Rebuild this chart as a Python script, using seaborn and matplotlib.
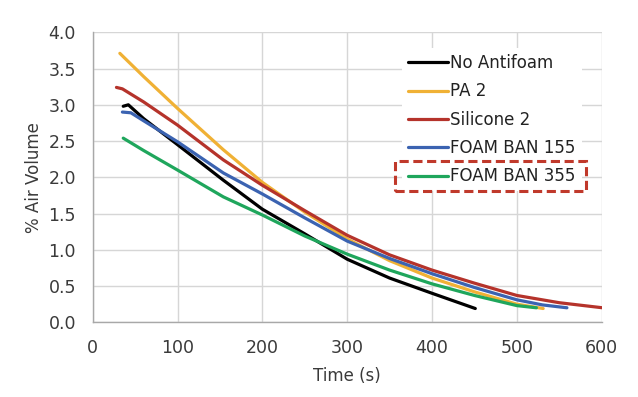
import numpy as np
import pandas as pd
import matplotlib
matplotlib.use("Agg")
import matplotlib.pyplot as plt
import seaborn as sns
from matplotlib.patches import Rectangle
from matplotlib.transforms import Bbox

# ---- data ----
series_names = ["No Antifoam", "PA 2", "Silicone 2", "FOAM BAN 155", "FOAM BAN 355"]

no_antifoam_t = [36, 42, 60, 100, 154, 200, 250, 300, 350, 400, 451]
no_antifoam_v = [2.98, 3.00, 2.81, 2.45, 1.96, 1.56, 1.22, 0.87, 0.61, 0.40, 0.19]

pa2_t = [32, 60, 100, 154, 200, 250, 300, 350, 400, 450, 500, 531]
pa2_v = [3.71, 3.39, 2.95, 2.38, 1.93, 1.52, 1.15, 0.85, 0.61, 0.42, 0.25, 0.19]

silicone2_t = [28, 35, 60, 100, 154, 200, 250, 300, 350, 400, 450, 500, 550, 601]
silicone2_v = [3.24, 3.22, 3.04, 2.72, 2.24, 1.89, 1.54, 1.20, 0.93, 0.72, 0.54, 0.37, 0.27, 0.20]

fb155_t = [35, 45, 60, 100, 154, 200, 250, 300, 350, 400, 450, 500, 530, 559]
fb155_v = [2.90, 2.89, 2.78, 2.49, 2.06, 1.77, 1.44, 1.12, 0.88, 0.67, 0.48, 0.31, 0.24, 0.20]

fb355_t = [36, 60, 100, 154, 200, 250, 300, 350, 400, 450, 500, 523]
fb355_v = [2.54, 2.37, 2.10, 1.73, 1.48, 1.19, 0.94, 0.72, 0.53, 0.37, 0.23, 0.20]

x_ticks = [0, 100, 200, 300, 400, 500, 600]
y_ticks = [0.0, 0.5, 1.0, 1.5, 2.0, 2.5, 3.0, 3.5, 4.0]

colors = ["#000000", "#f0b135", "#b5332b", "#3b63b1", "#1fa65c"]

frames = []
for name, t, v in zip(series_names,
                      [no_antifoam_t, pa2_t, silicone2_t, fb155_t, fb355_t],
                      [no_antifoam_v, pa2_v, silicone2_v, fb155_v, fb355_v]):
    frames.append(pd.DataFrame({"Time (s)": t, "% Air Volume": v, "Series": name}))
df = pd.concat(frames, ignore_index=True)

# ---- figure ----
sns.set_theme(style="white")
plt.rcParams["font.family"] = ["DejaVu Sans"]

fig = plt.figure(figsize=(6.38, 3.97), dpi=100)
ax = fig.add_axes([0.1453, 0.1882, 0.9431 - 0.1453, 0.9186 - 0.1882])

sns.lineplot(data=df, x="Time (s)", y="% Air Volume", hue="Series",
             hue_order=series_names, palette=colors, sort=False,
             estimator=None, linewidth=2.3, ax=ax)

ax.set_xlim(0, 600)
ax.set_ylim(0, 4.0)
ax.set_xticks(x_ticks)
ax.set_yticks(y_ticks)
ax.set_yticklabels([f"{v:.1f}" for v in y_ticks])
ax.grid(True, color="#d6d6d6", linewidth=1.0)
ax.set_axisbelow(True)
for s in ["top", "right"]:
    ax.spines[s].set_visible(False)
for s in ["left", "bottom"]:
    ax.spines[s].set_color("#a8a8a8")
    ax.spines[s].set_linewidth(1.0)
ax.tick_params(axis="both", length=0, pad=12, labelsize=12.5, labelcolor="#3a3a3a")
ax.set_xlabel("Time (s)", fontsize=12, color="#3a3a3a", labelpad=7)
ax.set_ylabel("% Air Volume", fontsize=12, color="#3a3a3a", labelpad=4)

handles, labels = ax.get_legend_handles_labels()
leg = ax.legend(handles, labels, loc="upper left", bbox_to_anchor=(0.6077, 0.945),
                borderaxespad=0, frameon=True, facecolor="white", edgecolor="none",
                framealpha=1, fancybox=False, fontsize=12, handlelength=2.4,
                handletextpad=0.15, labelspacing=0.62, borderpad=0.35)
for line in leg.get_lines():
    line.set_linewidth(2.3)
for txt in leg.get_texts():
    txt.set_color("#222222")

# dashed highlight box around the last legend entry
fig.canvas.draw()
renderer = fig.canvas.get_renderer()
tb = leg.get_texts()[-1].get_window_extent(renderer)
lb = leg.get_lines()[-1].get_window_extent(renderer)
bb = Bbox.union([tb, lb])
cy = (tb.y0 + tb.y1) / 2
bb = Bbox.from_extents(bb.x0 - 13, cy - 15, bb.x1 + 10, cy + 15)
bbf = bb.transformed(fig.transFigure.inverted())
rect = Rectangle((bbf.x0, bbf.y0), bbf.width, bbf.height, transform=fig.transFigure,
                 fill=False, edgecolor="#c0392b", linewidth=2.2, linestyle=(0, (3, 1.5)),
                 zorder=10)
fig.patches.append(rect)

fig.savefig("out.png", dpi=100)
